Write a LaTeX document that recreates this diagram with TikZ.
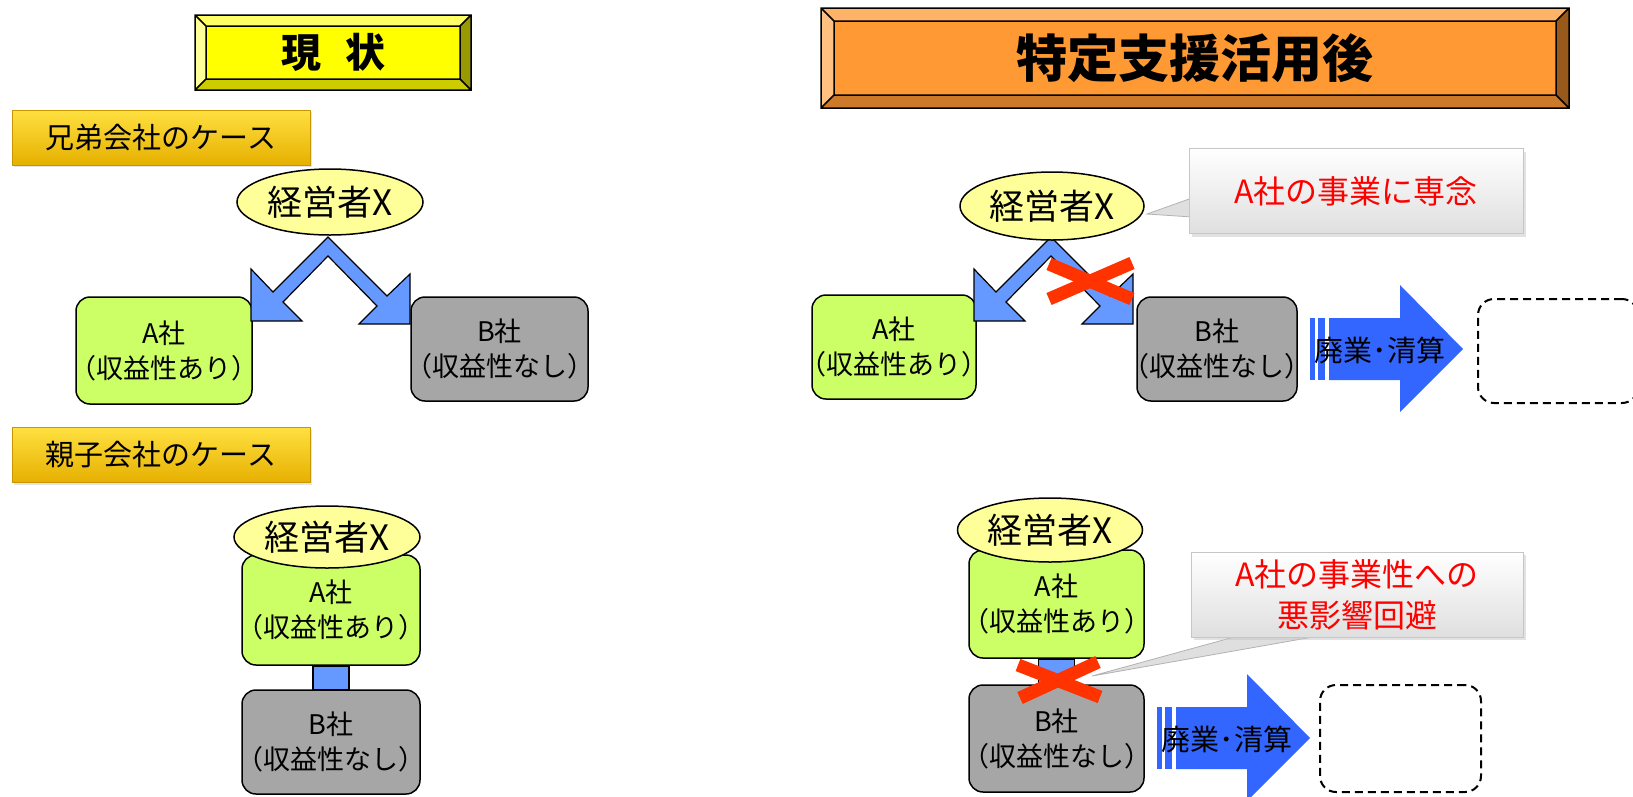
\documentclass[tikz,border=0pt]{standalone}
\usepackage{fontspec}
\setmainfont{Noto Sans CJK JP}
\usetikzlibrary{shapes.geometric,calc,shadows,backgrounds}
\definecolor{vblue}{HTML}{6699FF}
\definecolor{ablue}{HTML}{3366FF}
\definecolor{agreen}{HTML}{CCFF66}
\definecolor{bgray}{HTML}{A6A6A6}
\definecolor{elly}{HTML}{FFFF99}
\definecolor{xred}{HTML}{FF3300}
\definecolor{goldtop}{HTML}{FFE040}
\definecolor{goldbot}{HTML}{E6B000}
\definecolor{goldedge}{HTML}{C89600}
\definecolor{yface}{HTML}{FFFF00}
\definecolor{ytop}{HTML}{FFFF66}
\definecolor{yleft}{HTML}{FFFF99}
\definecolor{ybot}{HTML}{CCCC00}
\definecolor{yright}{HTML}{999900}
\definecolor{oface}{HTML}{FF9933}
\definecolor{otop}{HTML}{FFB366}
\definecolor{oleft}{HTML}{FFC080}
\definecolor{obot}{HTML}{CC7A29}
\definecolor{oright}{HTML}{99591A}
\newcommand\fTitleA{\fontsize{40}{44}\selectfont\bfseries}
\newcommand\fTitleB{\fontsize{51}{55}\selectfont\bfseries}
\newcommand\fGold{\fontsize{29}{32}\selectfont}
\newcommand\fEll{\fontsize{35}{38}\selectfont}
\newcommand\fBox{\fontsize{27}{35}\selectfont}
\newcommand\fCall{\fontsize{32}{41}\selectfont}
\newcommand\fArr{\fontsize{29}{30}\selectfont}
\newcommand\twol[2]{\makebox[0pt]{#1}\\\makebox[0pt]{#2}}
\newcommand\bevel[6]{%
 \fill[#6face] (#1,#2) rectangle (#3,#4);
 \fill[#6top] (#1,#2) -- (#3,#2) -- (#3-#5,#2+#5) -- (#1+#5,#2+#5) -- cycle;
 \fill[#6bot] (#1,#4) -- (#3,#4) -- (#3-#5,#4-#5) -- (#1+#5,#4-#5) -- cycle;
 \fill[#6left] (#1,#2) -- (#1+#5,#2+#5) -- (#1+#5,#4-#5) -- (#1,#4) -- cycle;
 \fill[#6right] (#3,#2) -- (#3-#5,#2+#5) -- (#3-#5,#4-#5) -- (#3,#4) -- cycle;
 \draw[line width=1.5] (#1,#2) rectangle (#3,#4) (#1+#5,#2+#5) rectangle (#3-#5,#4-#5)
   (#1,#2) -- (#1+#5,#2+#5) (#3,#2) -- (#3-#5,#2+#5) (#1,#4) -- (#1+#5,#4-#5) (#3,#4) -- (#3-#5,#4-#5);
}
\newcommand\vshape{%
 \draw[varrow] (328,237) -- (387,296) -- (410,274) -- (410,324) -- (359,324) -- (377,306) -- (328,256)
   -- (283,302) -- (302,321) -- (251,321) -- (251,269) -- (273,292) -- cycle;}
\newcommand\bigarrow{%
 \fill[ablue] (1310,318) rectangle (1315,380);
 \fill[ablue] (1318,318) rectangle (1325,380);
 \fill[ablue] (1329,318) -- (1400,318) -- (1400,285) -- (1463,349) -- (1400,412) -- (1400,380) -- (1329,380) -- cycle;}
\tikzset{
 gold/.style={draw=goldedge, line width=0.8, top color=goldtop, bottom color=goldbot, minimum width=298pt, minimum height=55pt, inner sep=0, font=\fGold, drop shadow={shadow xshift=2pt, shadow yshift=-2pt, fill=gray!40}},
 ell/.style={ellipse, draw, line width=1.5, fill=elly, minimum width=186pt, minimum height=66pt, inner sep=0, font=\fEll},
 abox/.style={draw, line width=1.5, rounded corners=14, fill=agreen, align=center, inner sep=0, font=\fBox},
 bbox/.style={abox, fill=bgray},
 varrow/.style={fill=vblue, draw, line width=1.2, line join=miter},
 vconn/.style={fill=vblue, draw, line width=1.5},
 xcross/.style={draw=xred, line width=13},
 dbox/.style={draw, line width=2, dash pattern=on 8pt off 5pt, rounded corners=16, inner sep=0},
 callbox/.style={draw=gray!45, line width=1, top color=white, bottom color=gray!25, inner sep=0, text=red, font=\fCall, align=center, drop shadow={shadow xshift=3pt, shadow yshift=-3pt, fill=gray!45}},
 wedge/.style={fill=gray!25, draw=gray!60, line width=0.8},
 arrtext/.style={font=\fArr, inner sep=0}
}
\begin{document}
\begin{tikzpicture}[x=1pt,y=-1pt]
\useasboundingbox (0,0) rectangle (1633,796);
\clip (0,0) rectangle (1633,796);
% titles
\bevel{195}{15}{471}{90}{11}{y}
\node[font=\fTitleA, inner sep=0] (title1) at (333,52.5) {現\hspace{24pt}状};
\bevel{821}{8}{1569}{108}{13}{o}
\node[font=\fTitleB, inner sep=0] (title2) at (1195,58) {特定支援活用後};
% case labels
\node[gold] (g1) at (161,137.5) {兄弟会社のケース};
\node[gold] (g2) at (161,455) {親子会社のケース};
% left top
\node[abox, minimum width=176pt, minimum height=107pt] (LA1) at (164,350.5) {\twol{A社}{（収益性あり）}};
\node[bbox, minimum width=177pt, minimum height=104pt] (LB1) at (499.5,349) {\twol{B社}{（収益性なし）}};
\vshape
\node[ell] (X1) at (330,202) {経営者X};
% left bottom
\node[abox, minimum width=178pt, minimum height=110pt] (LA2) at (331,610) {\twol{A社}{（収益性あり）}};
\node[bbox, minimum width=178pt, minimum height=104pt] (LB2) at (331,742) {\twol{B社}{（収益性なし）}};
\begin{scope}[on background layer]
\draw[vconn] ($(LA2.south)+(-18,0)$) rectangle ($(LB2.north)+(18,0)$);
\end{scope}
\node[ell, minimum height=62pt] (X2) at (327,537) {経営者X};
% right top
\node[abox, minimum width=164pt, minimum height=104pt] (RA1) at (894,347) {\twol{A社}{（収益性あり）}};
\node[bbox, minimum width=160pt, minimum height=104pt] (RB1) at (1217,349) {\twol{B社}{（収益性なし）}};
\begin{scope}[shift={(723,0)}]
\vshape
\end{scope}
\node[ell, minimum width=184pt, minimum height=68pt] (X3) at (1052,206) {経営者X};
\draw[xcross] (1049,264) -- (1132,299);
\draw[xcross] (1049,299) -- (1132,263);
\bigarrow
\node[arrtext] (H1) at (1380,350) {廃業･清算};
\node[dbox, minimum width=160pt, minimum height=104pt] (D1) at (1558,351) {};
\coordinate (P1) at (1147,214);
\draw[wedge] (P1) -- (1192,198) -- (1192,217) -- cycle;
\node[callbox, minimum width=334pt, minimum height=85pt] (C1) at (1356,191) {A社の事業に専念};
% right bottom
\node[abox, minimum width=175pt, minimum height=108pt] (RA2) at (1056.5,604) {\twol{A社}{（収益性あり）}};
\node[bbox, minimum width=175pt, minimum height=107pt] (RB2) at (1056.5,738.5) {\twol{B社}{（収益性なし）}};
\begin{scope}[on background layer]
\draw[vconn] ($(RA2.south)+(-18,0)$) rectangle ($(RB2.north)+(18,0)$);
\end{scope}
\node[ell, minimum width=185pt, minimum height=64pt] (X4) at (1050,530) {経営者X};
\draw[xcross] (1018,665) -- (1100,697);
\draw[xcross] (1020,698) -- (1098,662);
\begin{scope}[shift={(-153,389)}]
\bigarrow
\end{scope}
\node[arrtext] (H2) at (1227,739) {廃業･清算};
\node[dbox, minimum width=161pt, minimum height=107pt] (D2) at (1400.5,738.5) {};
\coordinate (P2) at (1092,676);
\draw[wedge] (P2) -- (1245,634) -- (1330,634) -- cycle;
\node[callbox, minimum width=332pt, minimum height=85pt] (C2) at (1357,594.5) {A社の事業性への\\悪影響回避};
\end{tikzpicture}
\end{document}
